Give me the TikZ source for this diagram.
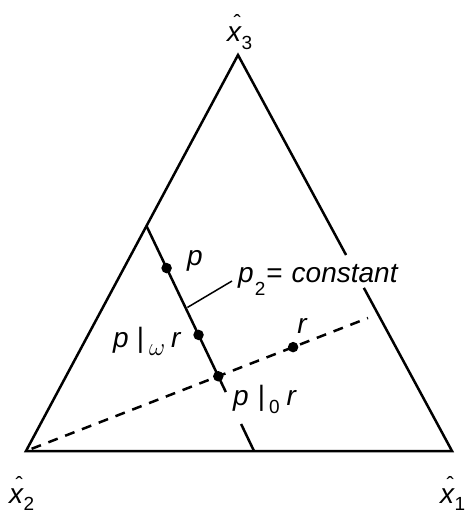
\documentclass[tikz,border=0pt]{standalone}
\usepackage{fontspec}
\setmainfont{Liberation Sans}
\usetikzlibrary{calc}
\newcommand{\sbs}[2][8pt]{\raisebox{-#1}{\fontsize{19}{19}\selectfont\upshape #2}}
\newcommand{\hatx}[2][8pt]{\rlap{\kern6.5pt\raisebox{11pt}{\fontsize{22}{22}\selectfont\upshape\char"02C6}}\textit{x}\kern0.5pt\sbs[#1]{#2}}
\begin{document}
\begin{tikzpicture}[x=1pt,y=-1pt,
  edge/.style={line width=2.5pt},
  dashline/.style={line width=2.5pt,dash pattern=on 10pt off 8pt,dash phase=-6pt},
  dot/.style={circle,fill=black,inner sep=0pt,minimum size=10.5pt},
  lbl/.style={inner sep=0pt,font=\fontsize{28}{32}\selectfont\itshape}]
\useasboundingbox (0,0) rectangle (466,519);
\coordinate (A) at (238,55);
\coordinate (B) at (26,451);
\coordinate (C) at (452,451);
\coordinate (L1) at (146.5,226);
\coordinate (L2) at (254,451);
\coordinate (D) at (368,318);
% triangle
\draw[edge,line join=miter] ($(A)!0.505!(C)$) -- (A) -- (B) -- (C) -- ($(A)!0.588!(C)$);
\draw[edge,line width=2.9pt] (B) -- (C);
% p2 = constant line
\draw[edge] (L1) -- ($(L1)!0.738!(L2)$);
\draw[edge] ($(L1)!0.88!(L2)$) -- (L2);
% dashed line
\draw[dashline] (B) -- (D);
% dots
\node[dot] (p) at ($(L1)!0.187!(L2)$) {};
\node[dot] (pw) at ($(L1)!0.484!(L2)$) {};
\node[dot] (p0) at (intersection of L1--L2 and B--D) {};
\node[dot] (r) at ($(B)!0.781!(D)$) {};
% leader
\coordinate (lead) at ($(L1)!0.362!(L2)$);
\coordinate (leadend) at (232,281);
\draw[line width=1.5pt] ([xshift=2pt]lead) -- (leadend);
% labels
\node[lbl,anchor=base] (tp) at (195,265) {p};
\node[lbl,anchor=base west] (tc) at (238,282) {p\kern1pt\sbs[13pt]{2}\kern1pt\upshape=\kern9pt\itshape constant};
\node[lbl,anchor=base west] (tpw) at (113,347) {p\kern8pt\upshape|\kern5pt\raisebox{-8pt}{\fontsize{25}{25}\selectfont$\omega$}\kern6pt\itshape r};
\node[lbl,anchor=base] (tr) at (302,333) {r};
\node[lbl,anchor=base west] (tp0) at (233,405) {p\kern9pt\upshape|\kern4pt\sbs[8pt]{0}\kern7pt\itshape r};
\node[lbl,anchor=base west] (x3) at (227,42) {\hatx{3}};
\node[lbl,anchor=base west] (x2) at (9,503) {\hatx[7pt]{2}};
\node[lbl,anchor=base west] (x1) at (440,503) {\hatx[7pt]{1}};
\end{tikzpicture}
\end{document}
